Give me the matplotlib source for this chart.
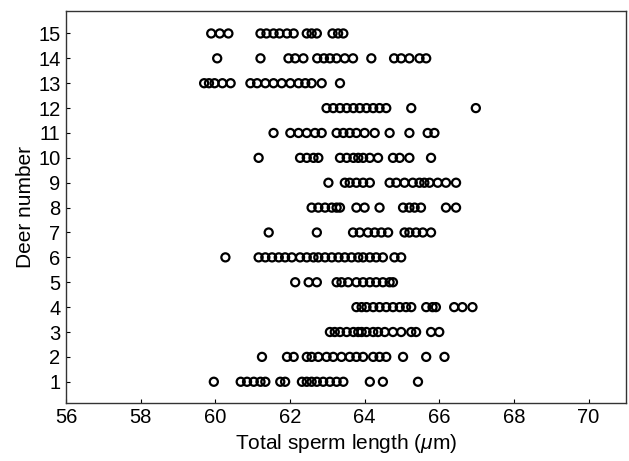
import matplotlib
matplotlib.use("Agg")
import matplotlib.pyplot as plt

plt.rcParams['font.family'] = ['Liberation Sans', 'DejaVu Sans']
plt.rcParams['mathtext.fontset'] = 'custom'
plt.rcParams['mathtext.it'] = 'Liberation Sans:italic'
plt.rcParams['mathtext.rm'] = 'Liberation Sans'

# sperm lengths per deer
deer1 = [59.96, 60.68, 60.85, 61.03, 61.21, 61.34, 61.74, 61.87, 62.32, 62.45, 62.58, 62.72,
         62.89, 63.07, 63.25, 63.43, 64.14, 64.49, 65.43]
deer2 = [61.25, 61.92, 62.10, 62.45, 62.58, 62.76, 62.98, 63.16, 63.38, 63.60, 63.78, 63.96,
         64.23, 64.40, 64.58, 65.03, 65.65, 66.14]
deer3 = [63.07, 63.20, 63.34, 63.52, 63.70, 63.83, 63.92, 64.05, 64.23, 64.36, 64.54, 64.76,
         64.98, 65.25, 65.38, 65.78, 66.00]
deer4 = [63.78, 63.92, 64.05, 64.23, 64.40, 64.58, 64.76, 64.94, 65.11, 65.25, 65.65, 65.82,
         65.91, 66.40, 66.62, 66.89]
deer5 = [62.14, 62.50, 62.72, 63.25, 63.38, 63.56, 63.78, 63.96, 64.14, 64.31, 64.49, 64.67, 64.76]
deer6 = [60.27, 61.16, 61.34, 61.52, 61.70, 61.87, 62.05, 62.27, 62.45, 62.63, 62.76, 62.94,
         63.12, 63.30, 63.47, 63.65, 63.83, 63.96, 64.14, 64.31, 64.49, 64.80, 64.98]
deer7 = [61.43, 62.72, 63.69, 63.87, 64.09, 64.27, 64.45, 64.63, 65.07, 65.20, 65.38, 65.56, 65.78]
deer8 = [62.58, 62.76, 62.94, 63.12, 63.25, 63.34, 63.78, 64.00, 64.40, 65.03, 65.20, 65.34,
         65.51, 66.18, 66.45]
deer9 = [63.03, 63.47, 63.60, 63.78, 63.96, 64.14, 64.67, 64.85, 65.07, 65.29, 65.47, 65.60,
         65.74, 65.96, 66.18, 66.45]
deer10 = [61.16, 62.27, 62.45, 62.63, 62.76, 63.34, 63.52, 63.70, 63.83, 63.96, 64.14, 64.36,
          64.76, 64.94, 65.20, 65.78]
deer11 = [61.56, 62.01, 62.23, 62.45, 62.67, 62.85, 63.25, 63.43, 63.60, 63.78, 64.00, 64.27,
          64.67, 65.20, 65.69, 65.87]
deer12 = [62.98, 63.16, 63.34, 63.52, 63.70, 63.87, 64.05, 64.23, 64.40, 64.58, 65.25, 66.98]
deer13 = [59.70, 59.83, 59.98, 60.19, 60.41, 60.94, 61.12, 61.34, 61.56, 61.78, 62.01, 62.23,
          62.41, 62.58, 62.85, 63.34]
deer14 = [60.05, 61.21, 61.96, 62.14, 62.36, 62.73, 62.91, 63.07, 63.25, 63.47, 63.69, 64.18,
          64.79, 64.98, 65.20, 65.47, 65.65]
deer15 = [59.89, 60.12, 60.35, 61.21, 61.37, 61.56, 61.72, 61.92, 62.10, 62.45, 62.58, 62.72,
          63.14, 63.29, 63.43]

deer = [deer1, deer2, deer3, deer4, deer5, deer6, deer7, deer8, deer9, deer10,
        deer11, deer12, deer13, deer14, deer15]
xticks = [56, 58, 60, 62, 64, 66, 68, 70]
yticks = list(range(1, 16))

fig = plt.figure(figsize=(6.29, 4.61), dpi=100)
ax = fig.add_axes([0.105, 0.126, 0.89, 0.85])

for i, vals in enumerate(deer):
    ax.scatter(vals, [i + 1] * len(vals), s=34, facecolors='none', edgecolors='black', linewidths=1.6)

ax.set_xlim(56, 71)
ax.set_ylim(0.15, 15.9)
ax.set_xticks(xticks)
ax.set_yticks(yticks)
ax.tick_params(direction='in', length=3, labelsize=14.5, top=False, right=False, pad=4)
for s in ax.spines.values():
    s.set_linewidth(1.0)
    s.set_color('#333333')

ax.set_xlabel(r"Total sperm length ($\mu$m)", fontsize=15, labelpad=3)
ax.set_ylabel("Deer number", fontsize=15, labelpad=2)

fig.savefig("out.png", dpi=100)
